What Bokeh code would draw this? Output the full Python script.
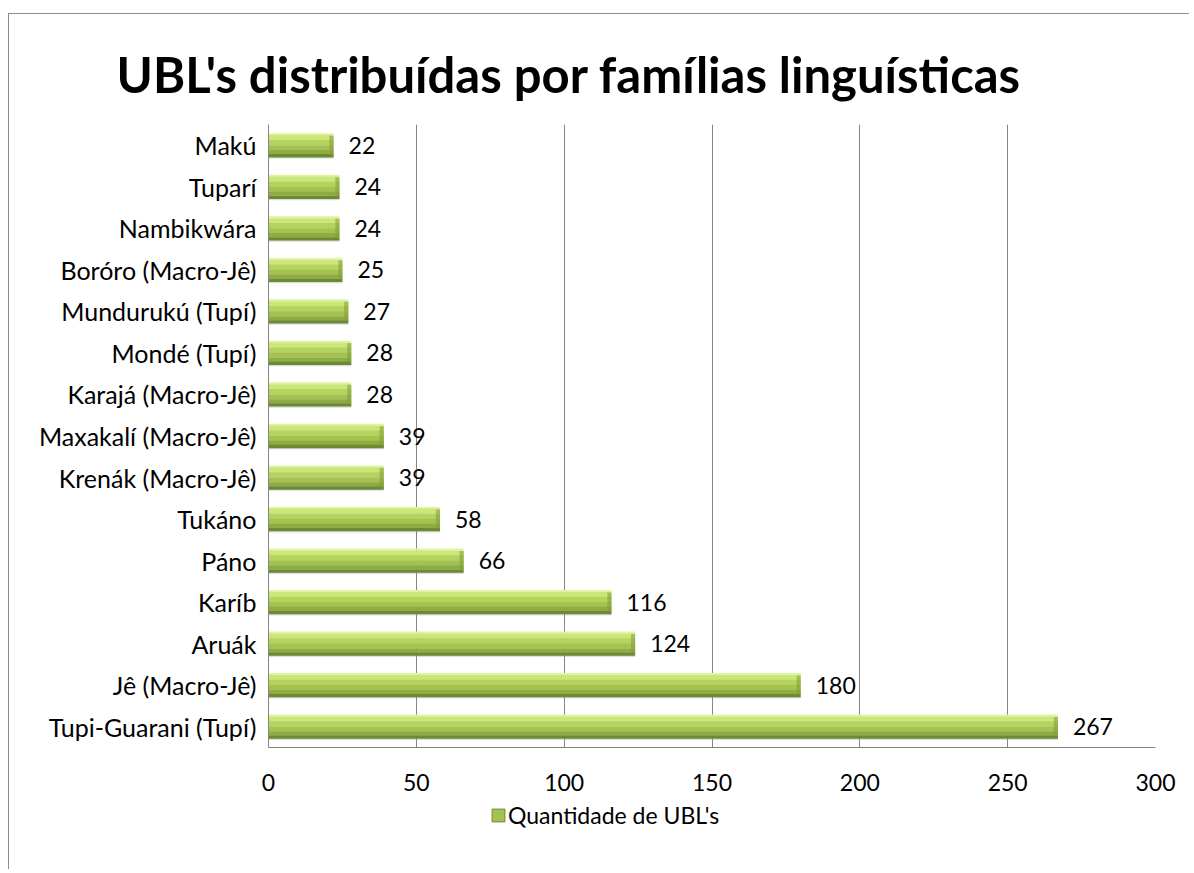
from bokeh.plotting import figure
from bokeh.models import Range1d, FactorRange, FixedTicker, Legend, LegendItem, ColumnDataSource
from bokeh.layouts import column
from bokeh.transform import dodge
from bokeh.core.properties import value
from bokeh.embed import file_html
from bokeh.resources import INLINE

# ---- data (top to bottom as in the chart) ----
families = ["Makú", "Tuparí", "Nambikwára", "Boróro (Macro-Jê)", "Mundurukú (Tupí)",
            "Mondé (Tupí)", "Karajá (Macro-Jê)", "Maxakalí (Macro-Jê)", "Krenák (Macro-Jê)",
            "Tukáno", "Páno", "Karíb", "Aruák", "Jê (Macro-Jê)", "Tupi-Guarani (Tupí)"]
counts = [22, 24, 24, 25, 27, 28, 28, 39, 39, 58, 66, 116, 124, 180, 267]
x_ticks = [0, 50, 100, 150, 200, 250, 300]
series_name = "Quantidade de UBL's"
title_text = "UBL's distribuídas por famílias linguísticas"

FONT = "Lato"
W = 1180
src = ColumnDataSource(dict(fam=families, n=counts, lab=[str(c) for c in counts]))

p = figure(width=W, height=783, output_backend="svg", toolbar_location=None,
           x_range=Range1d(0, 300), y_range=FactorRange(*families[::-1]),
           min_border_left=259, min_border_right=W - 1146, min_border_top=110, min_border_bottom=50,
           title=title_text)
p.outline_line_color = None
p.background_fill_color = "white"

p.title.text_font = FONT
p.title.text_font_size = "49px"
p.title.text_font_style = "bold"
p.title.text_color = "black"
p.title.align = "left"
p.title.vertical_align = "top"
p.title.offset = -152
p.title.standoff = 40

# grid & axes
p.xaxis.ticker = FixedTicker(ticks=x_ticks)
p.xgrid.ticker = FixedTicker(ticks=x_ticks)
p.xgrid.grid_line_color = "#868686"
p.ygrid.grid_line_color = None
for ax in (p.xaxis, p.yaxis):
    ax.axis_line_color = "#868686"
    ax.major_tick_line_color = None
    ax.minor_tick_line_color = None
    ax.major_label_text_font = FONT
    ax.major_label_text_color = "black"
p.xaxis.major_label_text_font_size = "23px"
p.yaxis.major_label_text_font_size = "25px"
p.xaxis.major_label_standoff = 20
p.yaxis.major_label_standoff = 6

H = 0.58
# shadow
p.hbar(y=dodge("fam", -0.06, range=p.y_range), left=0, right="n", height=H * 0.9, source=src,
       fill_color="#9a9a9a", fill_alpha=0.35, line_color=None)
# bar body strips (top -> bottom)
bands = [(0.00, 0.08, "#def5a0"), (0.08, 0.28, "#cce67a"), (0.28, 0.50, "#b6d35e"),
         (0.50, 0.70, "#a3c250"), (0.70, 0.87, "#8eac42"), (0.87, 1.00, "#6c8a32")]
for t0, t1, col in bands:
    center = H / 2 - H * (t0 + t1) / 2
    p.hbar(y=dodge("fam", center, range=p.y_range), left=0, right="n",
           height=H * (t1 - t0) + 0.004, source=src,
           fill_color=col, line_color=None)
# darker right-end bevel
p.hbar(y=dodge("fam", 0.0, range=p.y_range), left=dodge("n", -1.4), right="n", height=H * 0.8,
       source=src, fill_color="#7f9d38", fill_alpha=0.55, line_color=None)

# value labels
p.text(x="n", y="fam", text="lab", source=src, x_offset=15, text_baseline="middle",
       text_align="left", text_font=value(FONT), text_font_size="23px", text_color="black")

# legend strip (separate small figure below the chart)
QH = 72
q = figure(width=W, height=QH, output_backend="svg", toolbar_location=None,
           x_range=Range1d(-2, -1), y_range=Range1d(-2, -1),
           x_axis_location=None, y_axis_location=None,
           min_border_left=0, min_border_right=0, min_border_top=0, min_border_bottom=0)
q.grid.visible = False
q.outline_line_color = None
# legend swatch renderer (its points lie outside this strip's ranges, only the swatch shows)
leg_r = q.quad(left="n", right="n", top="n", bottom="n", source=src,
               fill_color="#a4c253", line_color="#6c8a32")
legend = Legend(items=[LegendItem(label=series_name, renderers=[leg_r])],
                location=(222, 40), orientation="horizontal",
                label_text_font=FONT, label_text_font_size="23px", label_text_color="black",
                border_line_color=None, background_fill_alpha=0,
                glyph_width=16, glyph_height=16, label_standoff=2,
                padding=0, margin=0)
q.add_layout(legend, "center")

lay = column(p, q, spacing=0)
lay.styles = {"margin-top": "13px", "margin-left": "8px",
              "border-top": "1px solid #8c8c8c", "border-left": "1px solid #8c8c8c"}

open("out.html", "w").write(file_html(lay, INLINE))
